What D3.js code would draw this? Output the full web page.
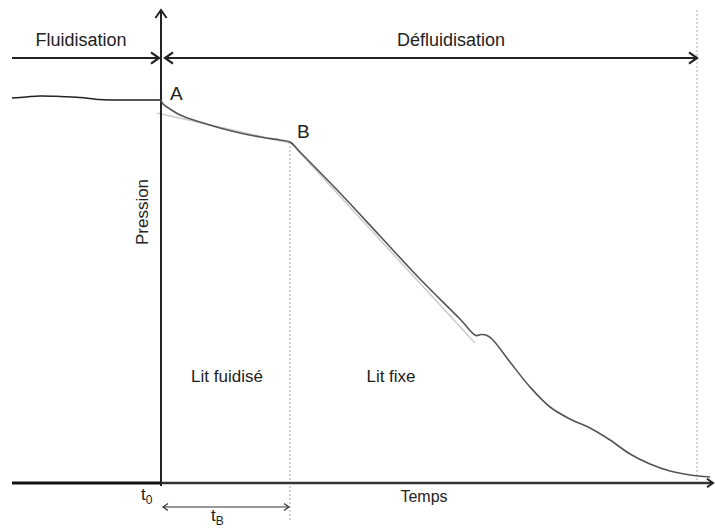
<!DOCTYPE html>
<html>
<head>
<meta charset="utf-8">
<script src="https://cdn.jsdelivr.net/npm/d3@7"></script>
<style>
    body { margin: 0; background: #fff; }
    svg { display: block; font-family: "Liberation Sans", Arial, sans-serif; }
</style>
</head>
<body>
<div id="chart"></div>
<script>
// time relative to t0, pressure in arbitrary units
const fluidTime = [-149, -135, -121, -101, -81, -61, -41, -21, 0];
const fluidPressure = [385, 386, 387, 386.5, 385.5, 383.5, 383, 383, 383];

const defluidTime = [0, 2, 9, 19, 39, 59, 79, 99, 119, 129, 139, 179, 219, 259, 299, 315, 320, 325, 331, 349, 369, 389, 409, 429, 449, 469, 489, 509, 529, 549];
const defluidPressure = [383, 379, 374, 368, 361, 355, 350, 346, 343, 341, 331, 290, 247, 204, 164, 147.5, 148.5, 148, 144, 121, 96, 76, 64, 55, 43, 29, 19, 12, 8, 6];

// faint fitted lines
const tangentA = [[-4, 370], [129, 340]];
const tangentB = [[129, 341], [314, 140]];

const tB = 129;
const tEnd = 536;

const phaseLabels = ["Fluidisation", "Défluidisation"];
const zoneLabels = ["Lit fuidisé", "Lit fixe"];

const width = 715;
const height = 528;

const x = d3.scaleLinear().domain([-150, 550]).range([11, 711]);
const y = d3.scaleLinear().domain([0, 400]).range([483, 83]);

const svg = d3.select("#chart").append("svg")
    .attr("width", width)
    .attr("height", height);

const line = d3.line()
    .x(d => x(d[0]))
    .y(d => y(d[1]))
    .curve(d3.curveCatmullRom);

function arrowHead(g, px, py, dir, size, color, sw) {
    // dir: "r", "l", "u"
    let pts;
    if (dir === "r") pts = [[px - size, py - size * 0.7], [px, py], [px - size, py + size * 0.7]];
    if (dir === "l") pts = [[px + size, py - size * 0.7], [px, py], [px + size, py + size * 0.7]];
    if (dir === "u") pts = [[px - size * 0.7, py + size], [px, py], [px + size * 0.7, py + size]];
    g.append("path")
        .attr("d", d3.line()(pts))
        .attr("fill", "none")
        .attr("stroke", color)
        .attr("stroke-width", sw);
}

const g = svg.append("g");

// dotted verticals
g.append("line")
    .attr("x1", x(tEnd)).attr("x2", x(tEnd))
    .attr("y1", 10).attr("y2", y(0))
    .attr("stroke", "#aaa").attr("stroke-width", 1)
    .attr("stroke-dasharray", "2,2");
g.append("line")
    .attr("x1", x(tB)).attr("x2", x(tB))
    .attr("y1", y(341)).attr("y2", 520)
    .attr("stroke", "#aaa").attr("stroke-width", 1)
    .attr("stroke-dasharray", "2,2");

// faint tangents
[tangentA, tangentB].forEach(t => {
    g.append("path")
        .attr("d", d3.line().x(d => x(d[0])).y(d => y(d[1]))(t))
        .attr("fill", "none")
        .attr("stroke", "#ccc")
        .attr("stroke-width", 1.5);
});

// x axis
g.append("line")
    .attr("x1", 12).attr("x2", x(0))
    .attr("y1", y(0)).attr("y2", y(0))
    .attr("stroke", "#111").attr("stroke-width", 3);
g.append("line")
    .attr("x1", x(0)).attr("x2", 712)
    .attr("y1", y(0)).attr("y2", y(0))
    .attr("stroke", "#333").attr("stroke-width", 2.5);
arrowHead(g, 713, y(0), "r", 6, "#222", 2);

// y axis
g.append("line")
    .attr("x1", x(0)).attr("x2", x(0))
    .attr("y1", 10).attr("y2", y(0) + 3)
    .attr("stroke", "#222").attr("stroke-width", 2);
arrowHead(g, x(0), 10, "u", 8, "#222", 2);

// curves
g.append("path")
    .attr("d", line(fluidTime.map((t, i) => [t, fluidPressure[i]])))
    .attr("fill", "none")
    .attr("stroke", "#222")
    .attr("stroke-width", 1.5);
g.append("path")
    .attr("d", line(defluidTime.map((t, i) => [t, defluidPressure[i]])))
    .attr("fill", "none")
    .attr("stroke", "#555")
    .attr("stroke-width", 1.6);

// phase arrows
const topY = 58;
g.append("line")
    .attr("x1", 12).attr("x2", x(0) - 2)
    .attr("y1", topY).attr("y2", topY)
    .attr("stroke", "#222").attr("stroke-width", 2.2);
arrowHead(g, x(0) - 2, topY, "r", 8, "#222", 2.2);
g.append("line")
    .attr("x1", x(0) + 4).attr("x2", x(tEnd))
    .attr("y1", topY).attr("y2", topY)
    .attr("stroke", "#222").attr("stroke-width", 2.2);
arrowHead(g, x(0) + 4, topY, "l", 8, "#222", 2.2);
arrowHead(g, x(tEnd), topY, "r", 8, "#222", 2.2);

// tB arrow
const tbY = 507;
g.append("line")
    .attr("x1", x(0) + 2).attr("x2", x(tB) - 1)
    .attr("y1", tbY).attr("y2", tbY)
    .attr("stroke", "#333").attr("stroke-width", 1.2);
arrowHead(g, x(0) + 2, tbY, "l", 5, "#333", 1.2);
arrowHead(g, x(tB) - 1, tbY, "r", 5, "#333", 1.2);

// texts
const txt = (s, px, py, size, anchor) => g.append("text")
    .attr("x", px).attr("y", py)
    .attr("font-size", size)
    .attr("text-anchor", anchor || "middle")
    .attr("fill", "#222")
    .text(s);

txt(phaseLabels[0], 81, 46, 18);
txt(phaseLabels[1], 451, 46, 18);
txt("A", 170, 100, 19, "start");
txt("B", 297, 138, 19, "start");
txt(zoneLabels[0], 227, 382, 17);
txt(zoneLabels[1], 391, 382, 17);
txt("Temps", 424, 502, 16);

g.append("text")
    .attr("transform", `translate(148,212) rotate(-90)`)
    .attr("font-size", 17)
    .attr("text-anchor", "middle")
    .attr("fill", "#222")
    .text("Pression");

const t0 = g.append("text")
    .attr("x", 141).attr("y", 500)
    .attr("font-size", 17)
    .attr("fill", "#222");
t0.append("tspan").text("t");
t0.append("tspan").attr("font-size", 12).attr("dy", 4).text("0");

const tb = g.append("text")
    .attr("x", 211).attr("y", 521)
    .attr("font-size", 17)
    .attr("fill", "#222");
tb.append("tspan").text("t");
tb.append("tspan").attr("font-size", 12).attr("dy", 4).text("B");
</script>
</body>
</html>
